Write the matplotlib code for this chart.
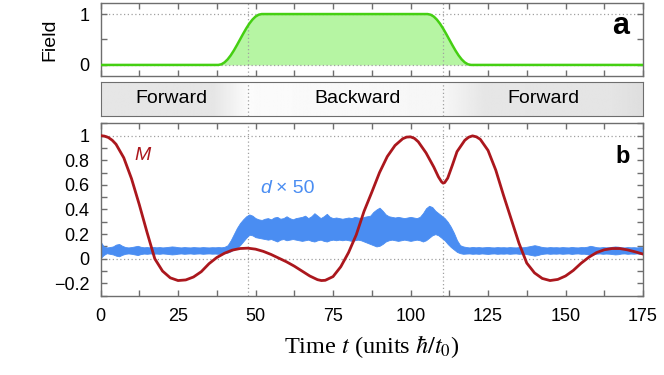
import numpy as np
import matplotlib
matplotlib.use("Agg")
import matplotlib.pyplot as plt
from matplotlib.ticker import MultipleLocator

plt.rcParams['font.family'] = ['Liberation Sans', 'DejaVu Sans']
plt.rcParams['mathtext.fontset'] = 'stix'

# ---- data ----
# panel a: field
field_t = [0, 38, 39, 40, 41, 42, 43, 44, 45, 46, 47, 48, 49, 50, 51, 52,
           105.5, 106.5, 107.5, 108.5, 109.5, 110.5, 111.5, 112.5, 113.5, 114.5,
           115.5, 116.5, 117.5, 118.5, 119.5, 175]
field_v = [0, 0, 0.013, 0.050, 0.109, 0.188, 0.283, 0.389, 0.5, 0.611, 0.717,
           0.812, 0.891, 0.951, 0.987, 1,
           1, 0.987, 0.951, 0.891, 0.812, 0.717, 0.611, 0.5, 0.389, 0.283,
           0.188, 0.109, 0.050, 0.013, 0, 0]

# switch times (dotted lines) and regime labels
switch_t = [47.5, 110.5]
regimes = ["Forward", "Backward", "Forward"]
regime_t = [23, 83, 143]

# panel b: M(t)
m_t = [0, 1.25, 2.5, 3.75, 5, 7.5, 10, 12.5, 15, 17.5, 20, 22.5, 25, 27.5, 30,
       32.5, 35, 37.5, 40, 42.5, 45, 47.5, 50, 52.5, 55, 57.5, 60, 62.5, 65,
       67.5, 70, 71.25, 72.5, 75, 77.5, 80, 82.5, 85, 87.5, 90, 92.5, 95, 97.5,
       98.75, 100, 101.25, 102.5, 105, 107.5, 109, 110, 110.5, 111, 112, 113.5,
       115, 117.5, 118.75, 120, 121.25, 122.5, 125, 127.5, 130, 132.5, 135,
       137.5, 140, 142.5, 145, 147.5, 150, 152.5, 155, 157.5, 160, 162.5, 165,
       167.5, 170, 172.5, 175]
m_v = [1.0, 0.996, 0.985, 0.963, 0.93, 0.82, 0.65, 0.44, 0.215, 0.0, -0.10,
       -0.155, -0.177, -0.172, -0.148, -0.105, -0.04, 0.01, 0.045, 0.07, 0.083,
       0.086, 0.078, 0.06, 0.035, 0.005, -0.025, -0.06, -0.10, -0.14, -0.17,
       -0.177, -0.175, -0.145, -0.065, 0.05, 0.195, 0.385, 0.54, 0.70, 0.83,
       0.92, 0.975, 0.988, 0.99, 0.978, 0.95, 0.86, 0.745, 0.665, 0.625, 0.614,
       0.618, 0.655, 0.76, 0.87, 0.962, 0.987, 0.998, 0.99, 0.97, 0.88, 0.72,
       0.515, 0.32, 0.125, -0.035, -0.115, -0.16, -0.177, -0.168, -0.14,
       -0.095, -0.037, 0.012, 0.05, 0.073, 0.083, 0.083, 0.072, 0.056, 0.038]

# panel b: d x 50, upper / lower envelope of the fast oscillation (1 unit steps)
d_t = list(range(0, 176))
d_hi = [0.14, 0.10, 0.092, 0.095, 0.10, 0.115, 0.12, 0.105, 0.095, 0.092,
        0.095, 0.10, 0.105, 0.097, 0.093, 0.095, 0.092, 0.096, 0.093, 0.095,
        0.092, 0.094, 0.097, 0.10, 0.098, 0.094, 0.092, 0.095, 0.093, 0.092,
        0.095, 0.093, 0.092, 0.095, 0.093, 0.092, 0.094, 0.093, 0.095, 0.093,
        0.097, 0.11, 0.15, 0.20, 0.25, 0.29, 0.32, 0.345, 0.36, 0.35,
        0.33, 0.32, 0.315, 0.325, 0.33, 0.32, 0.335, 0.34, 0.325, 0.33,
        0.345, 0.33, 0.32, 0.33, 0.335, 0.34, 0.35, 0.33, 0.345, 0.37,
        0.35, 0.33, 0.345, 0.365, 0.34, 0.33, 0.335, 0.33, 0.325, 0.33,
        0.335, 0.33, 0.34, 0.335, 0.33, 0.34, 0.345, 0.35, 0.38, 0.40,
        0.415, 0.39, 0.36, 0.345, 0.34, 0.335, 0.34, 0.335, 0.33, 0.335,
        0.34, 0.335, 0.33, 0.34, 0.37, 0.41, 0.43, 0.42, 0.39, 0.37,
        0.35, 0.33, 0.30, 0.26, 0.21, 0.15, 0.11, 0.10, 0.095, 0.092,
        0.096, 0.093, 0.095, 0.092, 0.094, 0.096, 0.093, 0.092, 0.095, 0.093,
        0.094, 0.092, 0.095, 0.093, 0.092, 0.095, 0.093, 0.095, 0.10, 0.105,
        0.11, 0.105, 0.098, 0.094, 0.092, 0.095, 0.093, 0.094, 0.092, 0.095,
        0.093, 0.092, 0.096, 0.093, 0.092, 0.095, 0.094, 0.098, 0.105, 0.10,
        0.094, 0.092, 0.095, 0.093, 0.094, 0.097, 0.10, 0.098, 0.093, 0.092,
        0.095, 0.093, 0.094, 0.092, 0.095, 0.093]
d_lo = [0.005, 0.03, 0.045, 0.04, 0.035, 0.025, 0.02, 0.032, 0.04, 0.043,
        0.04, 0.035, 0.03, 0.038, 0.042, 0.04, 0.043, 0.04, 0.042, 0.04,
        0.043, 0.041, 0.038, 0.035, 0.037, 0.041, 0.043, 0.04, 0.042, 0.043,
        0.04, 0.042, 0.043, 0.04, 0.042, 0.043, 0.041, 0.042, 0.04, 0.042,
        0.045, 0.05, 0.06, 0.075, 0.09, 0.11, 0.14, 0.17, 0.195, 0.19,
        0.175, 0.17, 0.165, 0.16, 0.155, 0.16, 0.15, 0.14, 0.155, 0.16,
        0.15, 0.155, 0.16, 0.155, 0.15, 0.145, 0.15, 0.155, 0.145, 0.14,
        0.15, 0.155, 0.145, 0.14, 0.15, 0.155, 0.15, 0.155, 0.15, 0.155,
        0.15, 0.145, 0.15, 0.155, 0.15, 0.14, 0.13, 0.12, 0.11, 0.10,
        0.105, 0.12, 0.14, 0.15, 0.155, 0.15, 0.145, 0.15, 0.155, 0.15,
        0.145, 0.15, 0.155, 0.15, 0.14, 0.15, 0.17, 0.19, 0.20, 0.19,
        0.17, 0.15, 0.12, 0.095, 0.075, 0.055, 0.045, 0.04, 0.042, 0.043,
        0.04, 0.042, 0.04, 0.043, 0.041, 0.039, 0.042, 0.043, 0.04, 0.042,
        0.041, 0.043, 0.04, 0.042, 0.043, 0.04, 0.042, 0.04, 0.035, 0.03,
        0.025, 0.03, 0.037, 0.041, 0.043, 0.04, 0.042, 0.041, 0.043, 0.04,
        0.042, 0.043, 0.039, 0.042, 0.043, 0.04, 0.041, 0.037, 0.03, 0.035,
        0.041, 0.043, 0.04, 0.042, 0.041, 0.038, 0.035, 0.037, 0.042, 0.043,
        0.04, 0.042, 0.041, 0.043, 0.04, 0.042]

b_yticks = [-0.2, 0, 0.2, 0.4, 0.6, 0.8, 1]
b_yticklabels = ["\u22120.2", "0", "0.2", "0.4", "0.6", "0.8", "1"]
xticks = [0, 25, 50, 75, 100, 125, 150, 175]

# ---- style ----
c_green = "#45cf12"
c_fill = "#b6f5a3"
c_red = "#ab171d"
c_blue = "#4a8df2"
c_frame = "#6e6e6e"
c_dot = "#a0a0a0"
label_size = 13


def style_axes(ax):
    for s in ax.spines.values():
        s.set_color(c_frame)
        s.set_linewidth(1.0)
    ax.tick_params(which='both', direction='in', top=True, right=True,
                   color=c_frame, length=4.5, width=1.0, labelsize=label_size)


fig = plt.figure(figsize=(6.64, 3.75), dpi=100)

# panel a
ax_a = fig.add_axes([0.1514, 0.797, 0.817, 0.194])
ax_a.fill_between(field_t, 0, field_v, color=c_fill, lw=0)
for y in (0, 1):
    ax_a.axhline(y, color=c_dot, ls=(0, (1, 2)), lw=0.9, zorder=1)
for t in switch_t:
    ax_a.axvline(t, color=c_dot, ls=(0, (1, 2)), lw=0.9, zorder=1)
ax_a.plot(field_t, field_v, color=c_green, lw=1.8, zorder=3,
          solid_joinstyle='round')
ax_a.set_xlim(0, 175)
ax_a.set_ylim(-0.22, 1.21)
ax_a.set_yticks([0, 1])
ax_a.yaxis.set_minor_locator(MultipleLocator(0.5))
ax_a.set_xticks(np.arange(0, 176, 12.5))
ax_a.set_xticklabels([])
style_axes(ax_a)
ax_a.tick_params(axis='y', pad=8)
ax_a.set_ylabel("Field", fontsize=14, labelpad=15)
ax_a.text(0.975, 0.69, "a", transform=ax_a.transAxes, fontsize=22,
          fontweight='bold', ha='right', va='center')

# regime bar
ax_r = fig.add_axes([0.1514, 0.6907, 0.817, 0.0907])
gx = np.linspace(0, 175, 700)
shade = np.interp(gx, [0, 36, 47.5, 110.5, 124, 165, 175],
                  [0.90, 0.90, 0.985, 0.965, 0.90, 0.895, 0.87])
ax_r.imshow(shade[None, :], extent=[0, 175, 0, 1], aspect='auto',
            cmap='gray', vmin=0, vmax=1, interpolation='bilinear')
for t in switch_t:
    ax_r.axvline(t, color=c_dot, ls=(0, (1, 2)), lw=0.9)
for name, t in zip(regimes, regime_t):
    ax_r.text(t, 0.5, name, ha='center', va='center', fontsize=14)
ax_r.set_xlim(0, 175)
ax_r.set_ylim(0, 1)
ax_r.set_xticks([])
ax_r.set_yticks([])
for s in ax_r.spines.values():
    s.set_color(c_frame)

# panel b
ax_b = fig.add_axes([0.1514, 0.2115, 0.817, 0.4597])
for y in (0, 1):
    ax_b.axhline(y, color=c_dot, ls=(0, (1, 2)), lw=0.9, zorder=1)
for t in switch_t:
    ax_b.axvline(t, color=c_dot, ls=(0, (1, 2)), lw=0.9, zorder=1)
ax_b.fill_between(d_t, d_lo, d_hi, color=c_blue, lw=0.6, edgecolor=c_blue, zorder=2)
ax_b.plot(m_t, m_v, color=c_red, lw=2.0, zorder=3, solid_joinstyle='round')
ax_b.set_xlim(0, 175)
ax_b.set_ylim(-0.3, 1.1)
ax_b.set_xticks(xticks)
ax_b.xaxis.set_minor_locator(MultipleLocator(12.5))
ax_b.set_yticks(b_yticks)
ax_b.set_yticklabels(b_yticklabels)
ax_b.yaxis.set_minor_locator(MultipleLocator(0.1))
style_axes(ax_b)
ax_b.tick_params(axis='x', pad=9)
ax_b.tick_params(axis='y', pad=8)
ax_b.set_xlabel(r"Time $t$ (units $\hbar/t_0$)", fontsize=17.5,
                family='Liberation Serif', labelpad=6)
ax_b.text(0.975, 0.81, "b", transform=ax_b.transAxes, fontsize=17,
          fontweight='bold', ha='right', va='center')
ax_b.text(11.0, 0.84, "M", color=c_red, fontsize=14, style='italic', va='center')
ax_b.text(51.5, 0.57, "d", color=c_blue, fontsize=14, style='italic', va='center')
ax_b.text(56.5, 0.57, "\u00d7 50", color=c_blue, fontsize=14, va='center')

fig.savefig("out.png", dpi=100)
